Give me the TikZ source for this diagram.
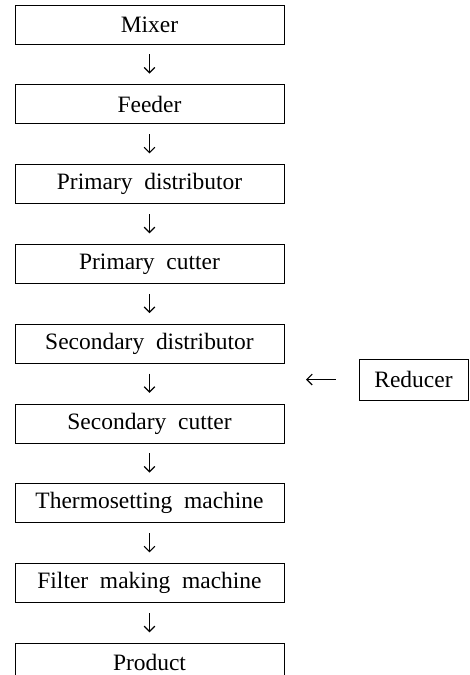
\documentclass[tikz,border=0pt]{standalone}
\usepackage{fontspec}
\setmainfont{Liberation Serif}[WordSpace=2]
\usetikzlibrary{positioning,arrows.meta}

\tikzset{
  stage/.style={draw, line width=0.7pt, minimum width=201.75pt, minimum height=29.25pt,
    inner sep=0pt, font=\fontsize{17.6}{21}\selectfont},
  side/.style={draw, line width=0.7pt, minimum width=81.75pt, minimum height=30.75pt,
    inner sep=0pt, font=\fontsize{17.6}{21}\selectfont},
  flow/.style={-{Straight Barb[length=4pt,width=8pt]}, line width=0.9pt,
    shorten <=7.5pt, shorten >=8pt}
}

\begin{document}
\begin{tikzpicture}[x=0.75pt, y=-0.75pt, node distance=29.9pt]
\useasboundingbox (0,0) rectangle (469,675);

% Main line, top to bottom
\node[stage] (mixer) at (149.5,24.5) {Mixer};
\node[stage, below=of mixer] (feeder) {Feeder};
\node[stage, below=of feeder] (pdist) {Primary distributor};
\node[stage, below=of pdist] (pcut) {Primary cutter};
\node[stage, below=of pcut] (sdist) {Secondary distributor};
\node[stage, below=of sdist] (scut) {Secondary cutter};
\node[stage, below=of scut] (thermo) {Thermosetting machine};
\node[stage, below=of thermo] (filter) {Filter making machine};
\node[stage, below=of filter] (product) {Product};

% Side feed
\node[side] (reducer) at (413.5,379.5) {Reducer};
\coordinate (feed) at (306,379.5);

% Arrows between stages
\draw[flow] (mixer) -- (feeder);
\draw[flow] (feeder) -- (pdist);
\draw[flow] (pdist) -- (pcut);
\draw[flow] (pcut) -- (sdist);
\draw[flow] (sdist) -- (scut);
\draw[flow] (scut) -- (thermo);
\draw[flow] (thermo) -- (filter);
\draw[flow] (filter) -- (product);
\draw[flow, shorten <=17.25pt, shorten >=0pt] (reducer.west) -- (feed);

\end{tikzpicture}
\end{document}
